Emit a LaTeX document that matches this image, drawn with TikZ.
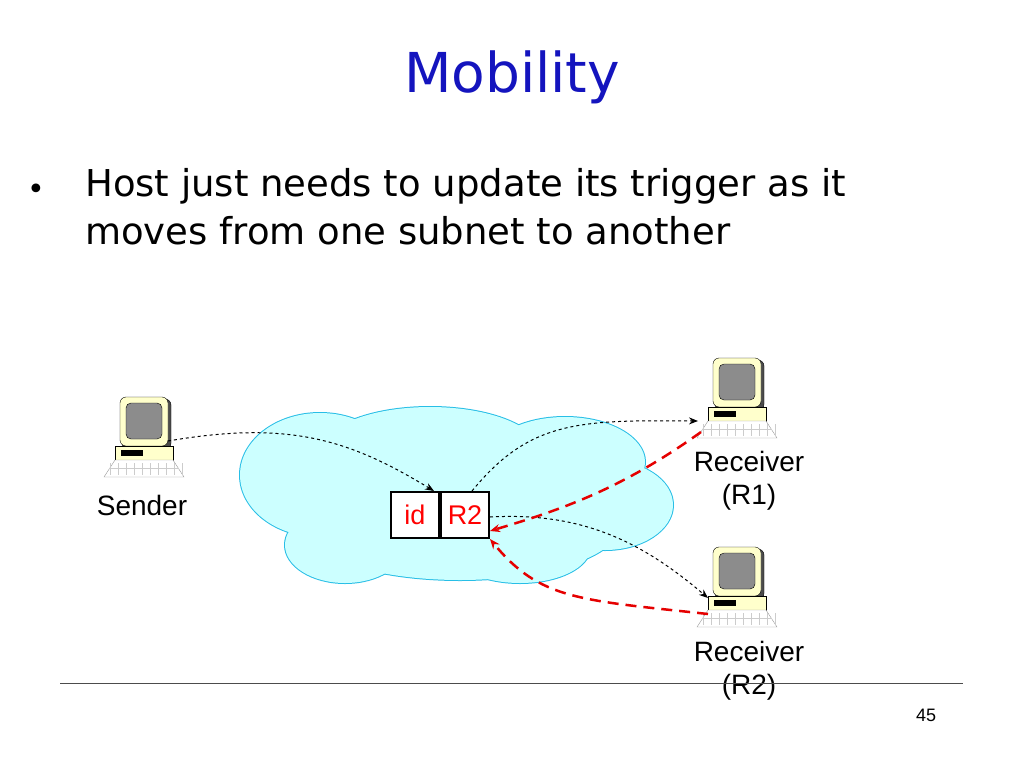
\documentclass[tikz,border=0pt]{standalone}
\usepackage{fontspec}
\setmainfont{DejaVu Sans}
\newfontfamily\arialfont{Liberation Sans}
\usetikzlibrary{positioning,arrows.meta}
\definecolor{cloudfill}{RGB}{204,255,255}
\definecolor{cloudline}{RGB}{40,190,230}
\definecolor{titleblue}{RGB}{20,20,190}
\definecolor{pcbody}{RGB}{255,255,204}
\tikzset{lbl/.style={font=\arialfont\fontsize{28}{33}\selectfont,align=center},
  msg/.style={-{Stealth[length=9pt,width=7pt]},dashed,line width=1pt},
  upd/.style={-{Stealth[length=10pt,width=8pt]},red!90!black,line width=2.5pt,dash pattern=on 11pt off 7pt},
  cell/.style={draw,line width=2pt,minimum width=48pt,minimum height=46pt,inner sep=0pt,text=red,font=\arialfont\fontsize{27}{30}\selectfont}}
% computer icon, top-left of monitor at #1
\newcommand{\pcicon}[2]{%
  \begin{scope}[shift={#1}]
    \draw[fill=black!70,rounded corners=6pt] (2,2) rectangle (51,52);
    \draw[fill=pcbody,rounded corners=6pt] (0,0) rectangle (48,49);
    \draw[fill=black!45,rounded corners=5pt] (6,6) rectangle (42,42);
    \draw[fill=pcbody] (-5,49) rectangle (53,63);
    \fill (1,53) rectangle (23,59);
    \draw[black!40,fill=white] (-5,63) -- (53,63) -- (64,80) -- (-16,80) -- cycle;
    \foreach \i in {0,...,9} \draw[black!20] (-10+\i*8,66) -- (-10+\i*8,78);
    \draw[black!20] (-11,71) -- (59,71);
    \coordinate (#2) at (24,40);
  \end{scope}}
\begin{document}
\begin{tikzpicture}[x=1pt,y=-1pt]
\useasboundingbox (0,0) rectangle (1024,768);
% title and bullet
\node[titleblue,font=\fontsize{55}{60}\selectfont] (title) at (512,77) {Mobility};
\node[font=\fontsize{30}{47}\selectfont] (bullet) at (36,192) {•};
\node[anchor=north west,align=left,font=\fontsize{37}{48}\selectfont,inner sep=0pt] (text) at (85,168)
  {Host just needs to update its trigger as it\\moves from one subnet to another};
% cloud
\begin{scope}
  \foreach \x/\y/\a/\b in {320/475/80/62,430/452/110/45,565/462/80/45,605/505/68/45,460/525/160/55,345/545/60/38,520/548/70/35}
    \draw[cloudline,line width=2pt] (\x,\y) ellipse [x radius=\a,y radius=\b];
  \foreach \x/\y/\a/\b in {320/475/80/62,430/452/110/45,565/462/80/45,605/505/68/45,460/525/160/55,345/545/60/38,520/548/70/35}
    \fill[cloudfill] (\x,\y) ellipse [x radius=\a,y radius=\b];
\end{scope}
% hosts
\pcicon{(120,397)}{snd}
\pcicon{(713,358)}{rA}
\pcicon{(713,547)}{rB}
\node[lbl] (sndlbl) at (142,505) {Sender};
\node[lbl] (rAlbl) at (749,481) {Receiver\\(R1)};
\node[lbl] (rBlbl) at (749,671) {Receiver\\(R2)};
% trigger
\node[cell,fill=white] (id) at (415,515) {id};
\node[cell,fill=white,right=0pt of id] (addr) {R2};
\coordinate (sndout) at (168,441);
\coordinate (rAin) at (698,421);
\coordinate (rAout) at (701,432);
\coordinate (rBin) at (708,598);
\coordinate (rBout) at (708,614);
\draw[msg] (sndout) .. controls (290,420) and (350,440) .. ([xshift=-6pt]id.north east);
\draw[msg] ([xshift=-18pt]addr.north east) .. controls (530,420) and (580,420) .. (rAin);
\draw[msg] ([yshift=-2pt]addr.east) .. controls (580,512) and (640,540) .. (rBin);
\draw[upd] (rAout) .. controls (620,490) and (560,510) .. ([yshift=8pt]addr.south east);
\draw[upd] (rBout) .. controls (580,600) and (540,600) .. (addr.south east);
% footer
\draw[black!70] (60,683) -- (963,683);
\node[font=\arialfont\fontsize{18}{20}\selectfont] (page) at (926,715) {45};
\end{tikzpicture}
\end{document}
